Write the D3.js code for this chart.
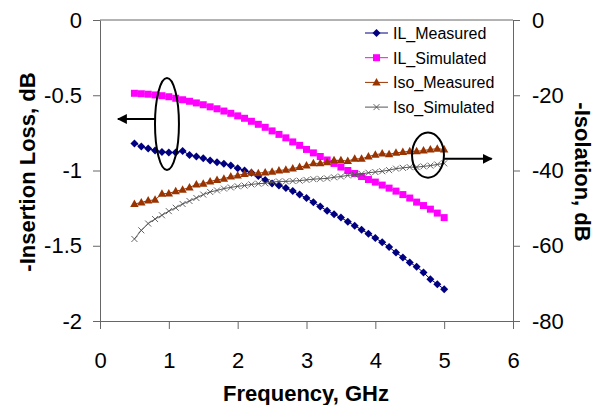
<!DOCTYPE html>
<html>
<head>
<meta charset="utf-8">
<script src="https://cdn.jsdelivr.net/npm/d3@7"></script>
<style>
  body { margin: 0; background: #fff; }
  svg { font-family: "Liberation Sans", Arial, sans-serif; }
  .axis path, .axis line { stroke: #666; }
  .axis text { fill: #000; font-size: 22px; }
</style>
</head>
<body>
<svg></svg>
<script>
// frequency points, GHz
const freq = [0.5, 0.6, 0.7, 0.8, 0.9, 1.0, 1.1, 1.2, 1.3, 1.4, 1.5, 1.6, 1.7, 1.8, 1.9,
  2.0, 2.1, 2.2, 2.3, 2.4, 2.5, 2.6, 2.7, 2.8, 2.9, 3.0, 3.1, 3.2, 3.3, 3.4, 3.5,
  3.6, 3.7, 3.8, 3.9, 4.0, 4.1, 4.2, 4.3, 4.4, 4.5, 4.6, 4.7, 4.8, 4.9, 5.0]

// -insertion loss, dB (left axis)
const ilMeasured = [-0.820, -0.840, -0.853, -0.867, -0.877, -0.880, -0.880, -0.870, -0.897, -0.907,
  -0.918, -0.933, -0.945, -0.955, -0.967, -0.985, -1.000, -1.015, -1.037, -1.063,
  -1.087, -1.100, -1.117, -1.137, -1.160, -1.183, -1.211, -1.240, -1.267, -1.290,
  -1.313, -1.340, -1.367, -1.393, -1.420, -1.449, -1.477, -1.509, -1.545, -1.578,
  -1.611, -1.640, -1.678, -1.722, -1.755, -1.789]

const ilSimulated = [-0.487, -0.490, -0.493, -0.498, -0.503, -0.510, -0.520, -0.530, -0.540, -0.551,
  -0.563, -0.577, -0.590, -0.605, -0.620, -0.637, -0.653, -0.673, -0.693, -0.713,
  -0.737, -0.760, -0.783, -0.810, -0.833, -0.860, -0.883, -0.907, -0.930, -0.953,
  -0.977, -1.000, -1.020, -1.040, -1.060, -1.077, -1.097, -1.117, -1.137, -1.160,
  -1.183, -1.210, -1.233, -1.257, -1.283, -1.313]

// -isolation, dB (right axis)
const isoMeasured = [-48.9, -48.5, -48.0, -47.8, -46.2, -46.1, -45.5, -45.1, -44.5, -43.7,
  -43.5, -42.9, -42.5, -42.2, -41.6, -41.3, -40.9, -40.6, -40.7, -40.5,
  -40.3, -40.0, -39.8, -39.5, -39.1, -38.7, -38.1, -38.1, -37.8, -37.3,
  -37.3, -37.5, -36.9, -36.9, -36.3, -35.8, -35.5, -35.7, -35.3, -35.1,
  -34.9, -34.9, -34.7, -34.4, -34.2, -34.4]

const isoSimulated = [-58.2, -55.9, -54.1, -52.9, -51.9, -50.8, -49.9, -48.9, -48.1, -47.3,
  -46.4, -45.7, -45.3, -44.8, -44.5, -44.2, -44.0, -43.7, -43.5, -43.4,
  -43.1, -42.9, -42.9, -42.8, -42.7, -42.5, -42.3, -42.2, -42.1, -41.8,
  -41.6, -41.3, -41.1, -40.9, -40.6, -40.4, -40.2, -39.9, -39.5, -39.3,
  -39.1, -39.1, -38.9, -38.7, -38.4, -38.1]

const xTicks = [0, 1, 2, 3, 4, 5, 6]
const leftTicks = [0, -0.5, -1, -1.5, -2]
const rightTicks = [0, -20, -40, -60, -80]

const svg = d3.select("svg")
    .attr("width", 596)
    .attr("height", 405)

const x = d3.scaleLinear().domain([0, 6]).range([100, 513])
const yLeft = d3.scaleLinear().domain([0, -2]).range([20, 321])
const yRight = d3.scaleLinear().domain([0, -80]).range([20, 321])

// arrowhead for the annotation arrows
svg.append("defs")
    .append("marker")
    .attr("id", "head")
    .attr("viewBox", "0 0 10 10")
    .attr("refX", 9)
    .attr("refY", 5)
    .attr("markerWidth", 5)
    .attr("markerHeight", 5)
    .attr("orient", "auto")
    .append("path")
    .attr("d", "M0,0 L10,5 L0,10 Z")
    .attr("fill", "#000")

// axes
svg.append("g")
    .attr("class", "axis")
    .attr("transform", "translate(0,321)")
    .call(d3.axisBottom(x).tickValues(xTicks).tickSize(8).tickPadding(23).tickSizeOuter(0)
        .tickFormat(d => String(d)))

svg.append("g")
    .attr("class", "axis")
    .attr("transform", "translate(100,0)")
    .call(d3.axisLeft(yLeft).tickValues(leftTicks).tickSize(7).tickPadding(11).tickSizeOuter(0)
        .tickFormat(d => String(d)))

svg.append("g")
    .attr("class", "axis")
    .attr("transform", "translate(513,0)")
    .call(d3.axisRight(yRight).tickValues(rightTicks).tickSize(7).tickPadding(12).tickSizeOuter(0)
        .tickFormat(d => String(d)))

// top border of the plot area
svg.append("line")
    .attr("x1", x(0)).attr("x2", x(6))
    .attr("y1", yLeft(0)).attr("y2", yLeft(0))
    .attr("stroke", "#666")

// axis titles
svg.append("text")
    .attr("x", 306).attr("y", 401)
    .attr("text-anchor", "middle")
    .attr("font-size", 22).attr("font-weight", "bold")
    .text("Frequency, GHz")

svg.append("text")
    .attr("transform", "translate(35,172) rotate(-90)")
    .attr("text-anchor", "middle")
    .attr("font-size", 22).attr("font-weight", "bold")
    .text("-Insertion Loss, dB")

svg.append("text")
    .attr("transform", "translate(575,172) rotate(90)")
    .attr("text-anchor", "middle")
    .attr("font-size", 22).attr("font-weight", "bold")
    .text("-Isolation, dB")

// symbol paths
const diamond = "M0,-4L4,0L0,4L-4,0Z"
const square = "M-3.5,-3.5H3.5V3.5H-3.5Z"
const triangle = "M0,-4.5L4.2,3L-4.2,3Z"
const cross = "M-3,-3L3,3M-3,3L3,-3"

const series = [
    { name: "IL_Measured", values: ilMeasured, y: yLeft, color: "#000080", sym: diamond, fill: true },
    { name: "IL_Simulated", values: ilSimulated, y: yLeft, color: "#FF00FF", sym: square, fill: true },
    { name: "Iso_Measured", values: isoMeasured, y: yRight, color: "#993300", sym: triangle, fill: true },
    { name: "Iso_Simulated", values: isoSimulated, y: yRight, color: "#555555", sym: cross, fill: false }
]

series.forEach(s => {
    const pts = freq.map((f, i) => [f, s.values[i]])
    const line = d3.line().x(d => x(d[0])).y(d => s.y(d[1]))

    svg.append("path")
        .datum(pts)
        .attr("d", line)
        .attr("fill", "none")
        .attr("stroke", s.color)
        .attr("stroke-width", 1)

    svg.selectAll("path.m-" + s.name)
        .data(pts)
        .enter()
        .append("path")
        .attr("class", "m-" + s.name)
        .attr("transform", d => `translate(${x(d[0])},${s.y(d[1])})`)
        .attr("d", s.sym)
        .attr("fill", s.fill ? s.color : "none")
        .attr("stroke", s.color)
        .attr("stroke-width", s.fill ? 0 : 0.9)
})

// annotation ellipses and arrows
svg.append("ellipse")
    .attr("cx", x(0.973)).attr("cy", yLeft(-0.691))
    .attr("rx", x(0.174) - x(0)).attr("ry", yLeft(-0.306) - yLeft(0))
    .attr("fill", "none").attr("stroke", "#000").attr("stroke-width", 2)

svg.append("line")
    .attr("x1", x(0.8)).attr("x2", x(0.26))
    .attr("y1", yLeft(-0.658)).attr("y2", yLeft(-0.658))
    .attr("stroke", "#000").attr("stroke-width", 2)
    .attr("marker-end", "url(#head)")

svg.append("ellipse")
    .attr("cx", x(4.765)).attr("cy", yRight(-35.9))
    .attr("rx", x(0.232) - x(0)).attr("ry", yRight(-6) - yRight(0))
    .attr("fill", "none").attr("stroke", "#000").attr("stroke-width", 2)

svg.append("line")
    .attr("x1", x(5.0)).attr("x2", x(5.69))
    .attr("y1", yRight(-36.9)).attr("y2", yRight(-36.9))
    .attr("stroke", "#000").attr("stroke-width", 2)
    .attr("marker-end", "url(#head)")

// legend
const legend = svg.selectAll("g.legend")
    .data(series)
    .enter()
    .append("g")
    .attr("class", "legend")
    .attr("transform", (d, i) => `translate(365, ${33 + i * 24.7})`)

legend.append("line")
    .attr("x1", 0).attr("x2", 23)
    .attr("stroke", d => d.color)
    .attr("stroke-width", 1)

legend.append("path")
    .attr("transform", "translate(11.5,0)")
    .attr("d", d => d.sym)
    .attr("fill", d => d.fill ? d.color : "none")
    .attr("stroke", d => d.color)
    .attr("stroke-width", d => d.fill ? 0 : 0.9)

legend.append("text")
    .attr("x", 28)
    .attr("y", 6)
    .attr("font-size", 16)
    .text(d => d.name)
</script>
</body>
</html>
